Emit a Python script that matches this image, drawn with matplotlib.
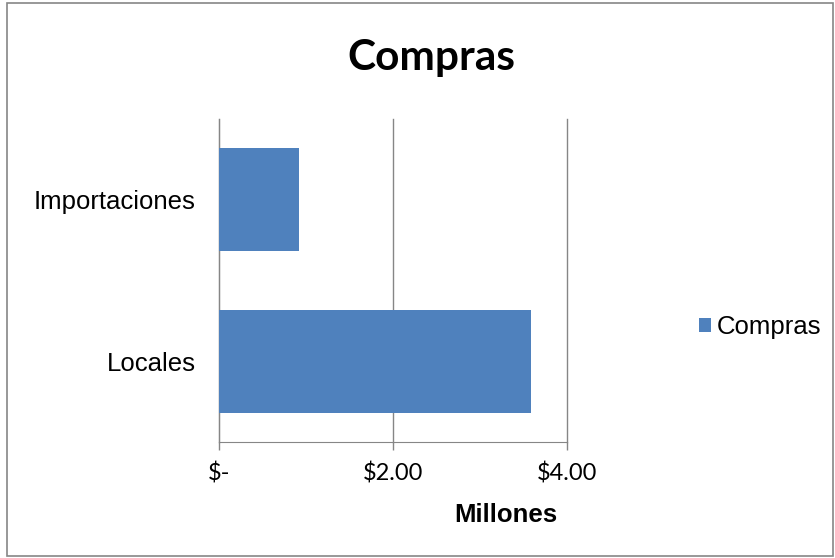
import matplotlib.pyplot as plt
from matplotlib.patches import Rectangle

categories = ["Locales", "Importaciones"]
values = [3.59, 0.92]  # millones
xticks = [0, 2, 4]
xtick_labels = ["$-", "$2.00", "$4.00"]
series_name = "Compras"

fig = plt.figure(figsize=(8.35, 5.58), dpi=100)
ax = fig.add_axes([219 / 835, 116 / 558, 348 / 835, 323 / 558])

bars = ax.barh(categories, values, height=0.64, color="#4F81BD", label=series_name, zorder=3)

ax.set_xlim(0, 4)
ax.set_ylim(-0.5, 1.5)
ax.set_xticks(xticks)
ax.set_xticklabels(xtick_labels, family="Lato", fontsize=17)
ax.grid(axis="x", color="#868686", linewidth=1, zorder=0)
for gl in ax.get_xgridlines():
    gl.set_clip_on(False)

for s in ["top", "right"]:
    ax.spines[s].set_visible(False)
ax.spines["bottom"].set_color("#868686")
ax.spines["left"].set_color("#868686")
ax.tick_params(axis="x", length=6, width=1, color="#868686", pad=9)
ax.tick_params(axis="y", length=0, pad=17)
for t in ax.get_yticklabels():
    t.set_family("Liberation Sans")
    t.set_fontsize(18.5)

ax.set_xlabel("Millones", family="Liberation Sans", fontsize=18.5, fontweight="bold", va="center")
ax.xaxis.set_label_coords((506 - 219) / 348, -(515 - 442) / 323)

fig.text(431 / 835, 1 - 58 / 558, "Compras", family="Lato", fontweight="bold",
         fontsize=30.5, ha="center", va="center")

leg = ax.legend(loc="center left", bbox_to_anchor=(699 / 835, 1 - 327 / 558),
                bbox_transform=fig.transFigure, frameon=False, borderpad=0, borderaxespad=0,
                prop={"family": "Liberation Sans", "size": 18.5},
                handlelength=0.45, handleheight=0.45, handletextpad=0.25)

fig.add_artist(Rectangle((7 / 835, 2 / 558), 826 / 835, 553 / 558, transform=fig.transFigure,
                         fill=False, edgecolor="#868686", linewidth=1.2))

fig.savefig("out.png", dpi=100)
